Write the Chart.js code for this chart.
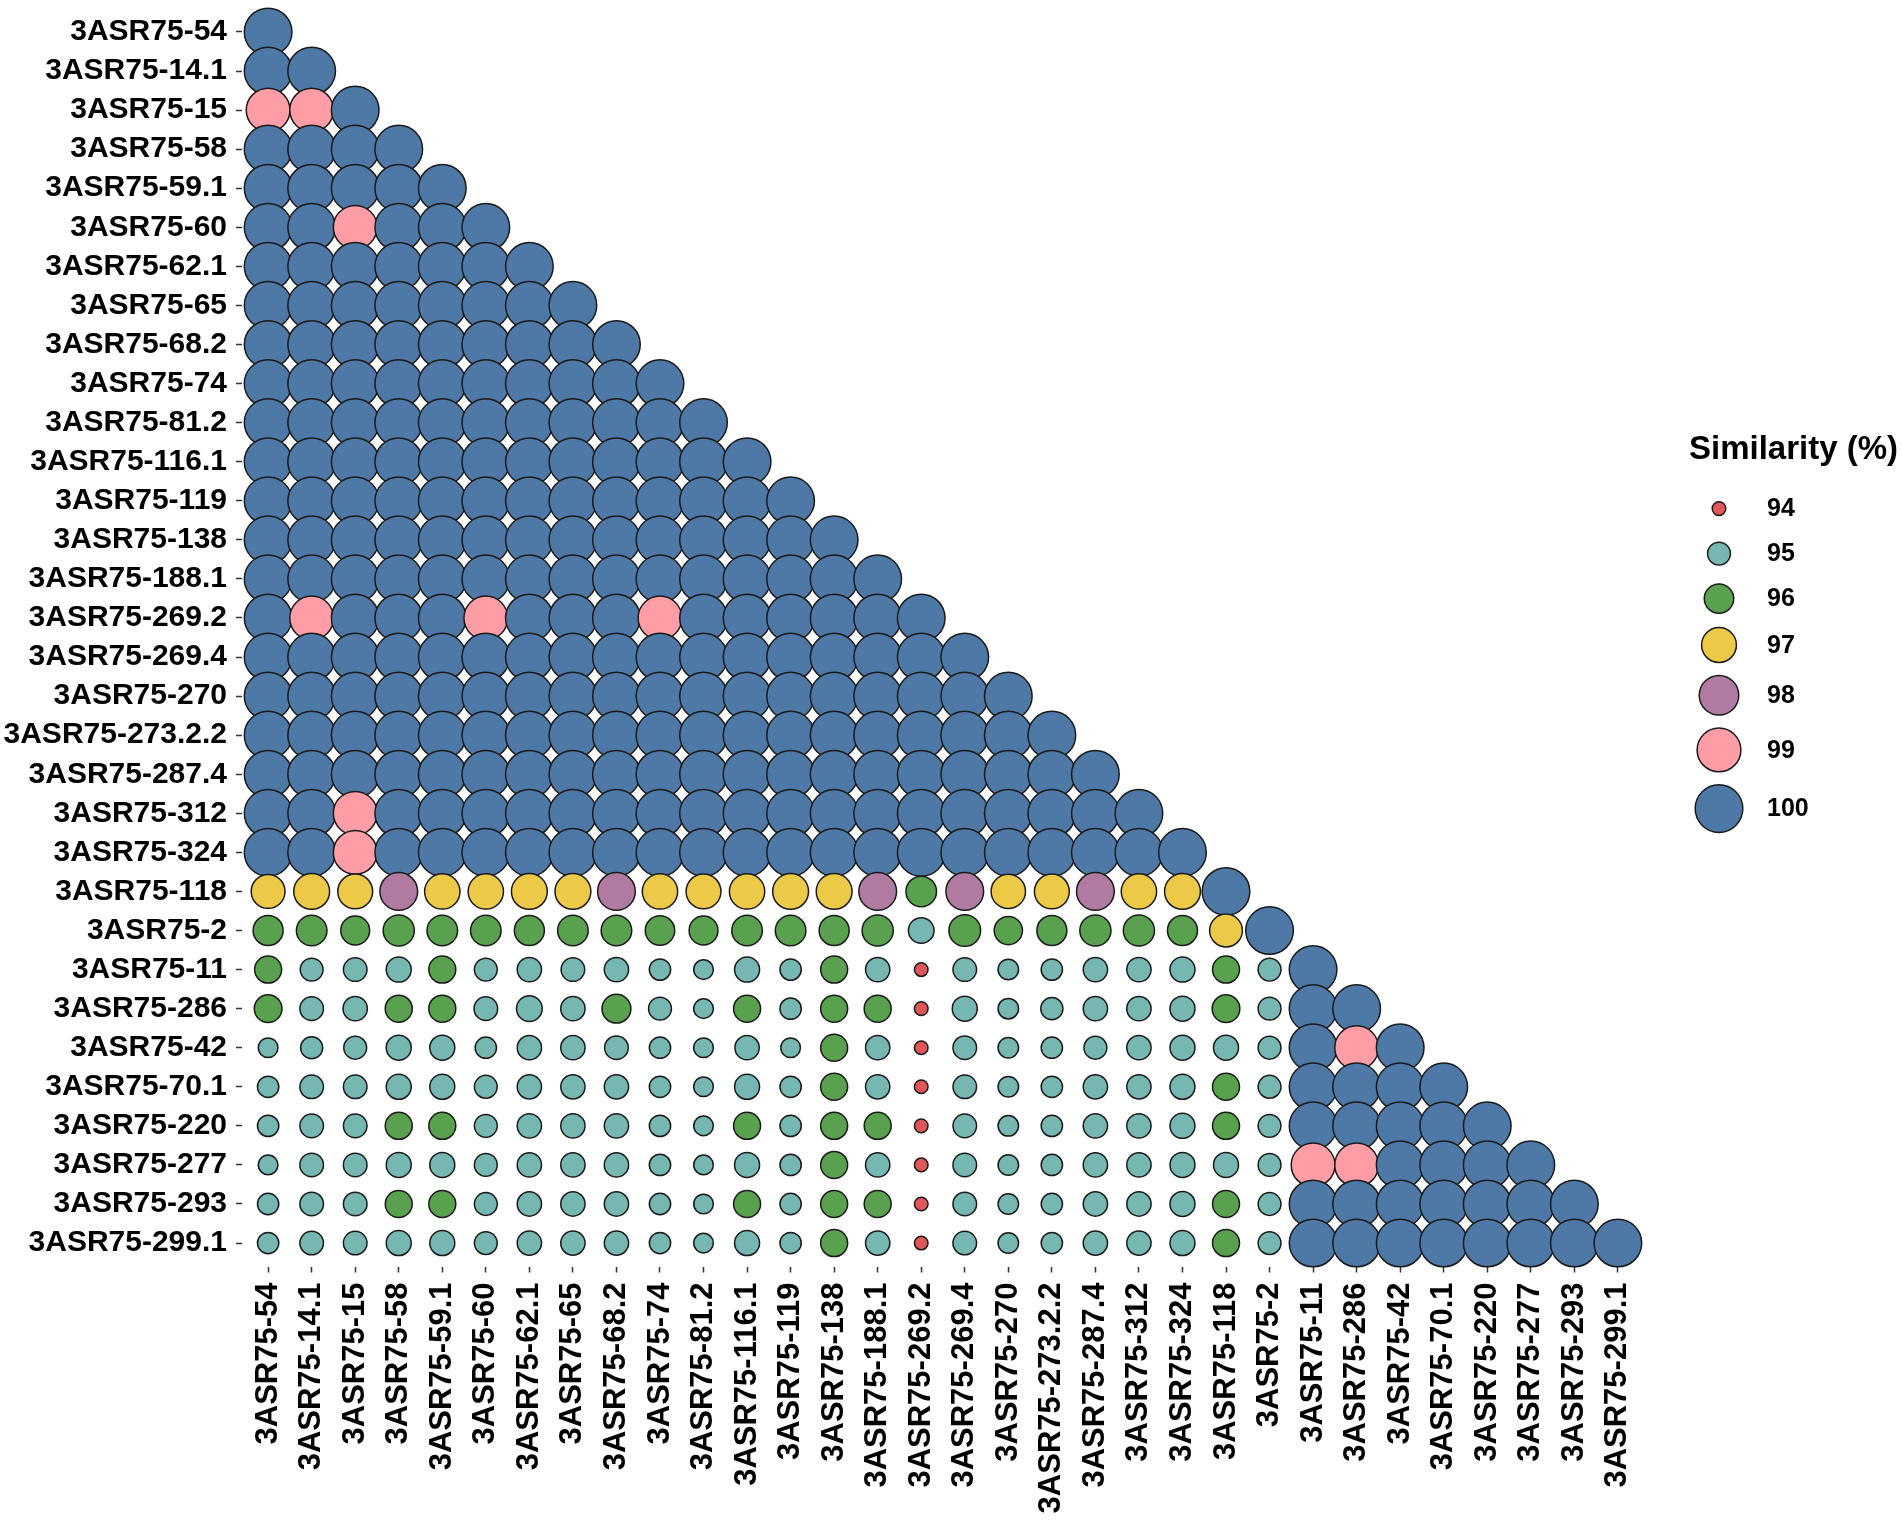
<!DOCTYPE html>
<html>
<head>
<meta charset="utf-8" />
<title>Similarity (%)</title>
<script src="https://cdn.jsdelivr.net/npm/chart.js@4.4.1/dist/chart.umd.min.js"></script>
<style>
  html, body { margin: 0; padding: 0; background: #fff; }
  #wrap { width: 1902px; height: 1532px; }
</style>
</head>
<body>
<div id="wrap"><canvas id="myChart" width="1902" height="1532"></canvas></div>
<script>
// isolate names, same order on both axes (top -> bottom, left -> right)
const isolates = [
  '3ASR75-54', '3ASR75-14.1', '3ASR75-15', '3ASR75-58', '3ASR75-59.1', '3ASR75-60',
  '3ASR75-62.1', '3ASR75-65', '3ASR75-68.2', '3ASR75-74', '3ASR75-81.2', '3ASR75-116.1',
  '3ASR75-119', '3ASR75-138', '3ASR75-188.1', '3ASR75-269.2', '3ASR75-269.4', '3ASR75-270',
  '3ASR75-273.2.2', '3ASR75-287.4', '3ASR75-312', '3ASR75-324', '3ASR75-118', '3ASR75-2',
  '3ASR75-11', '3ASR75-286', '3ASR75-42', '3ASR75-70.1', '3ASR75-220', '3ASR75-277',
  '3ASR75-293', '3ASR75-299.1'
];

// lower triangle, one row per isolate (row i has i+1 values)
const similarity = [
  [100],
  [100, 100],
  [99, 99, 100],
  [100, 100, 100, 100],
  [100, 100, 100, 100, 100],
  [100, 100, 99, 100, 100, 100],
  [100, 100, 100, 100, 100, 100, 100],
  [100, 100, 100, 100, 100, 100, 100, 100],
  [100, 100, 100, 100, 100, 100, 100, 100, 100],
  [100, 100, 100, 100, 100, 100, 100, 100, 100, 100],
  [100, 100, 100, 100, 100, 100, 100, 100, 100, 100,
   100],
  [100, 100, 100, 100, 100, 100, 100, 100, 100, 100,
   100, 100],
  [100, 100, 100, 100, 100, 100, 100, 100, 100, 100,
   100, 100, 100],
  [100, 100, 100, 100, 100, 100, 100, 100, 100, 100,
   100, 100, 100, 100],
  [100, 100, 100, 100, 100, 100, 100, 100, 100, 100,
   100, 100, 100, 100, 100],
  [100, 99, 100, 100, 100, 99, 100, 100, 100, 99,
   100, 100, 100, 100, 100, 100],
  [100, 100, 100, 100, 100, 100, 100, 100, 100, 100,
   100, 100, 100, 100, 100, 100, 100],
  [100, 100, 100, 100, 100, 100, 100, 100, 100, 100,
   100, 100, 100, 100, 100, 100, 100, 100],
  [100, 100, 100, 100, 100, 100, 100, 100, 100, 100,
   100, 100, 100, 100, 100, 100, 100, 100, 100],
  [100, 100, 100, 100, 100, 100, 100, 100, 100, 100,
   100, 100, 100, 100, 100, 100, 100, 100, 100, 100],
  [100, 100, 99, 100, 100, 100, 100, 100, 100, 100,
   100, 100, 100, 100, 100, 100, 100, 100, 100, 100,
   100],
  [100, 100, 99, 100, 100, 100, 100, 100, 100, 100,
   100, 100, 100, 100, 100, 100, 100, 100, 100, 100,
   100, 100],
  [96.8, 97.2, 97.0, 97.6, 97.1, 97.1, 97.2, 97.2, 97.6, 97.1,
   97.0, 97.1, 97.2, 97.2, 97.6, 96.2, 97.6, 96.9, 97.0, 97.6,
   97.1, 97.2, 100],
  [96.1, 96.2, 95.9, 96.3, 96.2, 96.2, 96.1, 96.2, 96.2, 96.0,
   95.9, 96.2, 96.2, 96.1, 96.3, 95.4, 96.4, 95.8, 96.1, 96.3,
   96.3, 96.1, 96.6, 100],
  [95.6, 95.0, 95.1, 95.3, 95.6, 95.0, 95.2, 95.1, 95.2, 94.8,
   94.6, 95.3, 94.8, 95.6, 95.2, 94.0, 95.1, 94.7, 94.8, 95.2,
   95.2, 95.3, 95.6, 95.0, 100],
  [95.7, 95.1, 95.2, 95.6, 95.6, 95.1, 95.4, 95.2, 95.9, 95.0,
   94.6, 95.6, 94.8, 95.6, 95.6, 94.0, 95.3, 94.7, 94.9, 95.2,
   95.2, 95.3, 95.7, 95.0, 100, 100],
  [94.6, 94.9, 95.0, 95.3, 95.3, 94.8, 95.2, 95.2, 95.1, 94.8,
   94.6, 95.2, 94.6, 95.6, 95.2, 94.0, 95.1, 94.7, 94.8, 95.0,
   95.2, 95.3, 95.3, 95.0, 100, 99, 100],
  [94.8, 95.1, 95.1, 95.3, 95.3, 95.0, 95.2, 95.2, 95.2, 94.8,
   94.6, 95.3, 94.8, 95.6, 95.2, 94.0, 95.1, 94.7, 94.8, 95.2,
   95.2, 95.3, 95.6, 95.0, 100, 100, 100, 100],
  [94.8, 95.1, 95.1, 95.6, 95.6, 95.0, 95.2, 95.2, 95.2, 94.8,
   94.6, 95.6, 94.8, 95.6, 95.6, 94.0, 95.1, 94.7, 94.8, 95.2,
   95.2, 95.3, 95.6, 95.0, 100, 100, 100, 100, 100],
  [94.6, 95.1, 95.1, 95.3, 95.3, 95.0, 95.2, 95.2, 95.2, 94.8,
   94.6, 95.3, 94.8, 95.6, 95.2, 94.0, 95.1, 94.7, 94.8, 95.2,
   95.2, 95.3, 95.3, 95.0, 99, 99, 100, 100, 100, 100],
  [94.8, 95.1, 95.1, 95.6, 95.6, 95.0, 95.2, 95.2, 95.2, 94.8,
   94.6, 95.6, 94.8, 95.6, 95.6, 94.0, 95.1, 94.7, 94.8, 95.2,
   95.2, 95.3, 95.6, 95.0, 100, 100, 100, 100, 100, 100, 100],
  [94.8, 95.1, 95.1, 95.3, 95.3, 95.0, 95.2, 95.2, 95.2, 94.8,
   94.6, 95.3, 94.8, 95.6, 95.2, 94.0, 95.1, 94.7, 94.8, 95.2,
   95.2, 95.3, 95.6, 95.0, 100, 100, 100, 100, 100, 100, 100, 100]
];

// legend keys
const keyValues = [94, 95, 96, 97, 98, 99, 100];
const keyColours = ['#E15759', '#76B7B2', '#59A14F', '#EDC948', '#B07AA1', '#FF9DA7', '#4E79A7'];
const keyTitle = 'Similarity (%)';

const fontFamily = '"Liberation Sans", Arial, sans-serif';

// size is area-proportional: 94 -> 15px across, 100 -> 49px across
function bubbleRadius(v) {
  return Math.sqrt(225 + 363 * (v - 94)) / 2 - 0.7;
}
function bubbleColour(v) {
  return keyColours[Math.round(v) - 94];
}

// column by column, so lower rows sit on top of the ones above
const points = [];
for (let c = 0; c < isolates.length; c++) {
  for (let r = c; r < isolates.length; r++) {
    points.push({ x: c, y: r, v: similarity[r][c] });
  }
}

// ggplot-style size/colour key on the right
const similarityKey = {
  id: 'similarityKey',
  afterDraw(chart) {
    const { ctx, chartArea } = chart;
    const heights = keyValues.map(v => Math.max(45, 2 * bubbleRadius(v) + 13));
    const titleH = 50;
    const total = titleH + heights.reduce((a, b) => a + b, 0);
    let y = (chartArea.top + chartArea.bottom) / 2 - total / 2;
    const left = chartArea.right + 45;

    ctx.save();
    ctx.textBaseline = 'middle';
    ctx.textAlign = 'left';
    ctx.fillStyle = '#000';
    ctx.font = 'bold 33px ' + fontFamily;
    ctx.fillText(keyTitle, left, y + 14);
    y += titleH;

    keyValues.forEach((v, i) => {
      const cy = y + heights[i] / 2;
      ctx.beginPath();
      ctx.arc(left + 30, cy, bubbleRadius(v), 0, Math.PI * 2);
      ctx.fillStyle = keyColours[i];
      ctx.fill();
      ctx.lineWidth = 1.5;
      ctx.strokeStyle = '#1a1a1a';
      ctx.stroke();
      ctx.fillStyle = '#000';
      ctx.font = 'bold 25px ' + fontFamily;
      ctx.fillText(String(v), left + 78, cy + 1);
      y += heights[i];
    });
    ctx.restore();
  }
};

const tickFont = size => ({ family: fontFamily, size: size, weight: 'bold' });
const integerTicks = s => { s.ticks = isolates.map((_, i) => ({ value: i })); };

const ctx = document.getElementById('myChart').getContext('2d');
const myChart = new Chart(ctx, {
  type: 'bubble',
  data: {
    datasets: [{
      label: keyTitle,
      data: points,
      clip: false,
      backgroundColor: c => c.raw ? bubbleColour(c.raw.v) : '#4E79A7',
      borderColor: '#1a1a1a',
      borderWidth: 1.5,
      radius: c => c.raw ? bubbleRadius(c.raw.v) : 10,
      hoverRadius: 0
    }]
  },
  options: {
    responsive: false,
    animation: false,
    events: [],
    layout: { autoPadding: false, padding: { top: 8.5, right: 258, bottom: 0, left: 0 } },
    plugins: {
      legend: { display: false },
      tooltip: { enabled: false }
    },
    scales: {
      x: {
        type: 'linear',
        position: 'bottom',
        min: -0.6,
        max: isolates.length - 0.4,
        afterBuildTicks: integerTicks,
        afterFit: s => { s.height = 265.5; s.paddingLeft = 0; s.paddingRight = 0; },
        border: { display: false },
        grid: { drawOnChartArea: false, drawTicks: true, tickLength: 6, tickColor: '#333', tickWidth: 1.5 },
        ticks: {
          autoSkip: false,
          minRotation: 90,
          maxRotation: 90,
          padding: 10,
          color: '#000',
          font: tickFont(31),
          callback: v => isolates[v] ?? ''
        }
      },
      y: {
        type: 'linear',
        position: 'left',
        reverse: true,
        min: -0.6,
        max: isolates.length - 0.4,
        afterBuildTicks: integerTicks,
        afterFit: s => { s.width = 242; s.paddingTop = 0; s.paddingBottom = 0; },
        border: { display: false },
        grid: { drawOnChartArea: false, drawTicks: true, tickLength: 6, tickColor: '#333', tickWidth: 1.5 },
        ticks: {
          autoSkip: false,
          padding: 9,
          color: '#000',
          font: tickFont(30),
          callback: v => isolates[v] ?? ''
        }
      }
    }
  },
  plugins: [similarityKey]
});
</script>
</body>
</html>
